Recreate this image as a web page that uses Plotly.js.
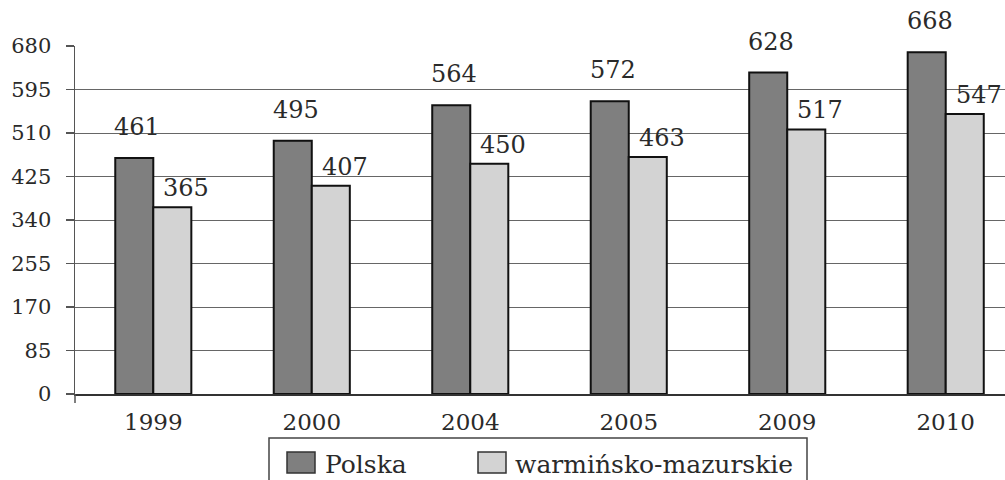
<!DOCTYPE html>
<html>
<head>
<meta charset="utf-8">
<script src="https://cdn.plot.ly/plotly-3.0.1.min.js"></script>
<style>html,body{margin:0;padding:0;background:#fff;}#chart{width:1005px;height:480px;}</style>
</head>
<body>
<div id="chart"></div>
<script>
const categories = ['1999', '2000', '2004', '2005', '2009', '2010'];
const polska = [461, 495, 564, 572, 628, 668];
const warminsko = [365, 407, 450, 463, 517, 547];
const seriesNames = ['Polska', 'warmińsko-mazurskie'];
const yTickVals = [0, 85, 170, 255, 340, 425, 510, 595, 680];

const FONT = 'DejaVu Serif';
const TXT = '#2a2a2a';
const COLORS = ['#7f7f7f', '#d3d3d3'];
const OUTLINE = '#111111';

// plot-area geometry (pixels) used to place the hand-drawn legend
const M = {l: 75, r: 0, t: 46, b: 86};
const W = 1005, H = 480;
const PW = W - M.l - M.r, PH = H - M.t - M.b;
const px = x => (x - M.l) / PW;
const py = y => (H - M.b - y) / PH;

const seriesVals = [polska, warminsko];
const traces = seriesVals.map((vals, s) => ({
  type: 'bar', name: seriesNames[s], x: categories, y: vals,
  marker: {color: COLORS[s], line: {color: OUTLINE, width: 2}},
  hoverinfo: 'skip', showlegend: false
}));

const annotations = [];
const xShift = [-16, 33];
const yShift = [15, 3];
seriesVals.forEach((vals, s) => {
  vals.forEach((v, i) => {
    annotations.push({
      x: i, y: v, xref: 'x', yref: 'y',
      text: String(v), showarrow: false,
      xanchor: 'center', yanchor: 'bottom',
      xshift: xShift[s], yshift: yShift[s],
      font: {family: FONT, size: 24, color: TXT}
    });
  });
});

// legend (box, swatches, labels)
const shapes = [
  {type: 'line', xref: 'paper', yref: 'paper', x0: 0, x1: 0, y0: 0, y1: py(403),
   line: {color: '#555555', width: 1.5}},
  {type: 'rect', xref: 'paper', yref: 'paper', x0: px(269), x1: px(807), y0: py(438), y1: py(510),
   line: {color: '#444444', width: 1.5}, fillcolor: 'rgba(0,0,0,0)'}
];
const swatchX = [287, 478];
const labelX = [323, 513];
seriesNames.forEach((name, s) => {
  shapes.push({type: 'rect', xref: 'paper', yref: 'paper',
    x0: px(swatchX[s]), x1: px(swatchX[s] + 28), y0: py(452), y1: py(473),
    line: {color: '#333333', width: 1.5}, fillcolor: COLORS[s]});
  annotations.push({xref: 'paper', yref: 'paper', x: px(labelX[s]), y: py(464),
    xanchor: 'left', yanchor: 'middle', showarrow: false, text: name,
    font: {family: FONT, size: 25, color: TXT}});
});

const layout = {
  width: W, height: H,
  margin: {l: M.l, r: M.r, t: M.t, b: M.b, autoexpand: false},
  paper_bgcolor: '#ffffff', plot_bgcolor: '#ffffff',
  font: {family: FONT, color: TXT},
  barmode: 'group', bargap: 0.52, bargroupgap: 0,
  showlegend: false,
  xaxis: {
    type: 'category', range: [-0.494, 5.374],
    showgrid: false, zeroline: false,
    showline: true, linecolor: '#333333', linewidth: 1.5,
    ticks: '', ticklabelstandoff: 7,
    tickfont: {family: FONT, size: 23, color: TXT},
    fixedrange: true
  },
  yaxis: {
    range: [0, 680], tickmode: 'array', tickvals: yTickVals,
    ticktext: yTickVals.map(String),
    showgrid: true, gridcolor: '#666666', gridwidth: 1,
    zeroline: false,
    showline: true, linecolor: '#555555', linewidth: 1.5,
    ticks: 'outside', ticklen: 8, tickcolor: '#555555', tickwidth: 1.2,
    ticklabelstandoff: 10,
    tickfont: {family: FONT, size: 21, color: TXT},
    fixedrange: true
  },
  shapes: shapes,
  annotations: annotations
};

Plotly.newPlot('chart', traces, layout, {staticPlot: true, displayModeBar: false});
</script>
</body>
</html>
